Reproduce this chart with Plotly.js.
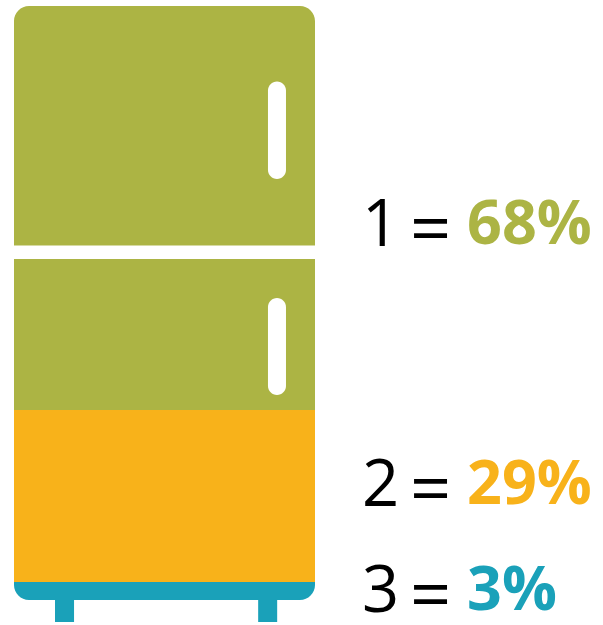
<!DOCTYPE html>
<html>
<head>
<meta charset="utf-8">
<script src="https://cdn.plot.ly/plotly-3.0.1.min.js"></script>
<style>html,body{margin:0;padding:0;background:#fff}#chart{width:603px;height:625px}</style>
</head>
<body>
<div id="chart"></div>
<script>
// Share of answers per rating, stacked bottom to top as a fridge
const ratings = ['3', '2', '1'];
const shares = [3, 29, 68];
const colors = ['#1AA1B9', '#F8B21A', '#ACB444'];

const W = 603, H = 625;
const left = 14, right = 314.8, top_ = 6, bottom = 600;
const plotW = right - left, plotH = bottom - top_;

// Convert canvas pixels to paper fractions for the fridge furniture
const px = x => (x - left) / plotW;
const py = y => (bottom - y) / plotH;

function rrect(x0, y0, x1, y1, r) {
  const k = r * 0.45;
  const p = (x, y) => px(x) + ',' + py(y);
  return 'M' + p(x0 + r, y0) + ' L' + p(x1 - r, y0) +
    ' C' + p(x1 - k, y0) + ' ' + p(x1, y0 + k) + ' ' + p(x1, y0 + r) +
    ' L' + p(x1, y1 - r) +
    ' C' + p(x1, y1 - k) + ' ' + p(x1 - k, y1) + ' ' + p(x1 - r, y1) +
    ' L' + p(x0 + r, y1) +
    ' C' + p(x0 + k, y1) + ' ' + p(x0, y1 - k) + ' ' + p(x0, y1 - r) +
    ' L' + p(x0, y0 + r) +
    ' C' + p(x0, y0 + k) + ' ' + p(x0 + k, y0) + ' ' + p(x0 + r, y0) + ' Z';
}

// White wedge that rounds a square corner of the stack
function corner(cx, cy, sx, sy, r) {
  const k = r * 0.45;
  const p = (x, y) => px(cx + sx * x) + ',' + py(cy + sy * y);
  return 'M' + p(-1, -1) + ' L' + p(r, -1) + ' L' + p(r, 0) +
    ' C' + p(k, 0) + ' ' + p(0, k) + ' ' + p(0, r) + ' L' + p(-1, r) + ' Z';
}

const paperShape = o => Object.assign({xref: 'paper', yref: 'paper', line: {width: 0}}, o);

const shapes = [
  // Feet
  paperShape({type: 'rect', x0: px(55), x1: px(74), y0: py(622), y1: py(598), fillcolor: colors[0], layer: 'below'}),
  paperShape({type: 'rect', x0: px(258), x1: px(277), y0: py(622), y1: py(598), fillcolor: colors[0], layer: 'below'}),
  // Gap between the doors
  paperShape({type: 'rect', x0: px(left - 2), x1: px(right + 2), y0: py(259), y1: py(245.5), fillcolor: '#fff'}),
  // Handles
  paperShape({type: 'path', path: rrect(267.8, 81.5, 285.8, 179, 9), fillcolor: '#fff'}),
  paperShape({type: 'path', path: rrect(267.8, 298, 285.8, 395, 9), fillcolor: '#fff'}),
  // Rounded cabinet corners
  paperShape({type: 'path', path: corner(left, top_, 1, 1, 15), fillcolor: '#fff'}),
  paperShape({type: 'path', path: corner(right, top_, -1, 1, 15), fillcolor: '#fff'}),
  paperShape({type: 'path', path: corner(left, bottom, 1, -1, 15), fillcolor: '#fff'}),
  paperShape({type: 'path', path: corner(right, bottom, -1, -1, 15), fillcolor: '#fff'})
];

const FONT = '"Open Sans", "Noto Sans", sans-serif';
const labelY = [586.5, 480.5, 221];
const annotations = [];
const label = (x, y, text, size, color, weight) => ({
  xref: 'paper', yref: 'paper', x: px(x), y: py(y),
  xanchor: 'left', yanchor: 'middle', showarrow: false,
  text, font: {family: FONT, size, color, weight}
});
ratings.forEach((r, i) => {
  annotations.push(label(360, labelY[i], r, 65, '#000', 400));
  annotations.push(label(408, labelY[i] + 5, '=', 72, '#000', 400));
  annotations.push(label(465, labelY[i], shares[i] + '%', 61, colors[i], 700));
});

const traces = ratings.map((r, i) => ({
  type: 'bar', x: ['fridge'], y: [shares[i]], name: r,
  marker: {color: colors[i], line: {width: 0}}, hoverinfo: 'name+y'
}));

Plotly.newPlot('chart', traces, {
  width: W, height: H,
  margin: {l: left, r: W - right, t: top_, b: H - bottom, pad: 0},
  barmode: 'stack', bargap: 0,
  showlegend: false,
  paper_bgcolor: '#fff', plot_bgcolor: 'rgba(0,0,0,0)',
  xaxis: {visible: false, fixedrange: true},
  yaxis: {visible: false, range: [0, 100], fixedrange: true},
  shapes, annotations
}, {displayModeBar: false, staticPlot: true});
</script>
</body>
</html>
